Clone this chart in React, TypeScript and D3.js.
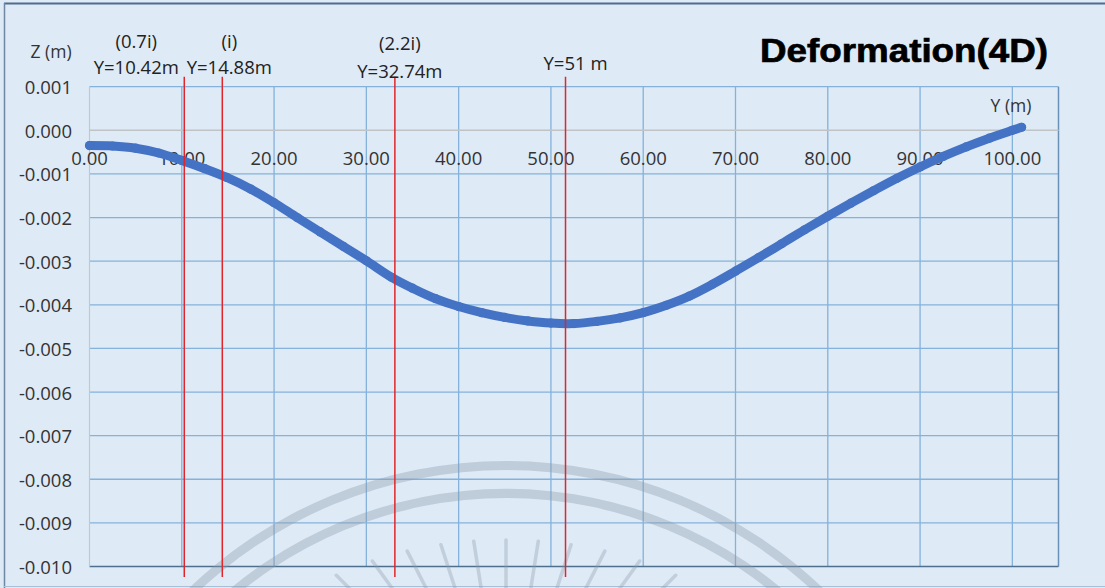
import React from "react";
import * as d3 from "d3";

// Y position along the bridge (m) and vertical deformation Z (m)
const posY = [0, 2.5, 5, 7.5, 10, 12.5, 14.88, 17.5, 20, 22.5, 25, 27.5, 30, 32.74, 35, 37.5, 40, 42.5, 45, 47.5, 50, 52.5, 55, 57.5, 60, 62.5, 65, 67.5, 70, 72.5, 75, 77.5, 80, 82.5, 85, 87.5, 90, 92.5, 95, 97.5, 100, 101];
const defZ = [-0.00035, -0.00036, -0.00041, -0.00052, -0.00069, -0.00088, -0.00108, -0.00135, -0.00166, -0.002, -0.00233, -0.00266, -0.00299, -0.00337, -0.00362, -0.00386, -0.00404, -0.00418, -0.00429, -0.00437, -0.00442, -0.00443, -0.00438, -0.0043, -0.00418, -0.00401, -0.0038, -0.00353, -0.00323, -0.00292, -0.0026, -0.00228, -0.00197, -0.00167, -0.00138, -0.0011, -0.00084, -0.0006, -0.00038, -0.00018, 0.0, 0.00007];

const xTicks = [0, 10, 20, 30, 40, 50, 60, 70, 80, 90, 100];
const zTicks = [0.001, 0, -0.001, -0.002, -0.003, -0.004, -0.005, -0.006, -0.007, -0.008, -0.009, -0.01];

// red marker lines (where they are drawn) and their captions
const markerPos = [10.27, 14.39, 33.09, 51.58];
const markerTop = ["(0.7i)", "(i)", "(2.2i)", ""];
const markerLabel = ["Y=10.42m", "Y=14.88m", "Y=32.74m", "Y=51 m"];

const W = 1105;
const H = 588;
const labelDx = [-48, 7, 5, 10];
const topY = [40, 40, 42, 0];
const labY = [66, 66, 70, 62];

const fmtZ = d3.formatLocale({ decimal: ".", thousands: ",", grouping: [3], currency: ["", ""], minus: "-" }).format(".3f");
const fmtX = d3.format(".2f");

export default function App() {
  const x = d3.scaleLinear().domain([0, 105]).range([89.5, 1058.5]);
  const y = d3.scaleLinear().domain([-0.01, 0.001]).range([566.5, 86.7]);

  const pts = posY.map((p, i) => [p, defZ[i]] as [number, number]);
  const line = d3.line<[number, number]>()
    .x(d => x(d[0]))
    .y(d => y(d[1]))
    .curve(d3.curveCatmullRom);

  const font = "'Open Sans', 'Noto Sans', sans-serif";
  const grid = "#84b2da";

  // faint watermark behind the screenshot
  const arc = d3.arc();
  const rays = d3.range(-54, 55, 9);

  return (
    <svg width={W} height={H} style={{ position: "absolute", left: 0, top: 0 }}>
      <rect x={0} y={0} width={W} height={H} fill="#deeaf6" />
      <line x1={4} x2={W} y1={3.5} y2={3.5} stroke="#4e6c8b" strokeWidth={2} />
      <line x1={4.5} x2={4.5} y1={3} y2={H} stroke="#6f89a5" strokeWidth={1.5} />
      <line x1={4} x2={W} y1={586.5} y2={586.5} stroke="#a9bfd6" strokeWidth={1} />

      {/* grid */}
      {zTicks.filter(t => t !== 0 && t !== -0.01).map(t => (
        <line key={"h" + t} x1={x(0)} x2={x(105)} y1={y(t)} y2={y(t)} stroke={grid} strokeWidth={1.3} />
      ))}
      {xTicks.filter(t => t > 0).map(t => (
        <line key={"v" + t} x1={x(t)} x2={x(t)} y1={y(0.001)} y2={y(-0.01)} stroke={grid} strokeWidth={1.3} />
      ))}
      <line x1={x(105)} x2={x(105)} y1={y(0.001)} y2={y(-0.01)} stroke="#6b90b8" strokeWidth={1.5} />
      <line x1={x(0)} x2={x(105)} y1={y(-0.01)} y2={y(-0.01)} stroke="#4f6f8f" strokeWidth={1.6} />
      <line x1={x(0)} x2={x(0)} y1={y(0.001)} y2={y(-0.01)} stroke="#c4c8cc" strokeWidth={1.2} />
      <line x1={x(0)} x2={x(105)} y1={y(0)} y2={y(0)} stroke="#c0c3c6" strokeWidth={1.4} />

      {/* watermark */}
      <g transform="translate(506,920)" fill="#8e9cab" opacity={0.38}>
        <path d={arc({ innerRadius: 450, outerRadius: 459, startAngle: -Math.PI / 2, endAngle: Math.PI / 2 }) || ""} />
        <path d={arc({ innerRadius: 422, outerRadius: 431, startAngle: -Math.PI / 2, endAngle: Math.PI / 2 }) || ""} />
      </g>
      <g transform="translate(506,745)" stroke="#8e9cab" opacity={0.35} strokeLinecap="round">
        {rays.map(a => {
          const r0 = 205 + 35 * Math.pow(Math.abs(a) / 45, 2);
          const t = (a * Math.PI) / 180;
          return (
            <line key={a} x1={Math.sin(t) * r0} y1={-Math.cos(t) * r0} x2={Math.sin(t) * (r0 - 110)} y2={-Math.cos(t) * (r0 - 110)} strokeWidth={3.5} />
          );
        })}
      </g>

      {/* axis tick labels */}
      <g fontFamily={font} fontSize={18.5} fill="#333">
        {zTicks.map(t => (
          <text key={"zt" + t} x={72} y={y(t)} textAnchor="end" dominantBaseline="central">{fmtZ(t)}</text>
        ))}
        {xTicks.map(t => (
          <text key={"xt" + t} x={x(t)} y={157} textAnchor="middle" dominantBaseline="central">{fmtX(t)}</text>
        ))}
        <text x={51} y={51} textAnchor="middle" dominantBaseline="central" fontSize={17.5}>Z (m)</text>
        <text x={1011} y={105} textAnchor="middle" dominantBaseline="central" fontSize={17.5}>Y (m)</text>
      </g>

      {/* deformation curve */}
      <path d={line(pts) || ""} fill="none" stroke="#4472c4" strokeWidth={9} strokeLinecap="round" />
      {pts.map((d, i) => (
        <circle key={"p" + i} cx={x(d[0])} cy={y(d[1])} r={4.6} fill="#4472c4" />
      ))}

      {/* red markers */}
      {markerPos.map((m, i) => (
        <g key={"m" + i}>
          <line x1={x(m)} x2={x(m)} y1={y(0.00123)} y2={y(-0.01024)} stroke="#e0262a" strokeWidth={1.5} />
          <g fontFamily={font} fontSize={18.5} fill="#222" textAnchor="middle" dominantBaseline="central">
            {markerTop[i] && <text x={x(m) + labelDx[i]} y={topY[i]}>{markerTop[i]}</text>}
            <text x={x(m) + labelDx[i]} y={labY[i]}>{markerLabel[i]}</text>
          </g>
        </g>
      ))}

      <text x={760} y={50} fontFamily="'Liberation Sans', Arial, sans-serif" fontWeight="bold" fontSize={34}
        textLength={288} lengthAdjust="spacingAndGlyphs" dominantBaseline="central" fill="#000" stroke="#000" strokeWidth={0.7}>
        Deformation(4D)
      </text>
    </svg>
  );
}
